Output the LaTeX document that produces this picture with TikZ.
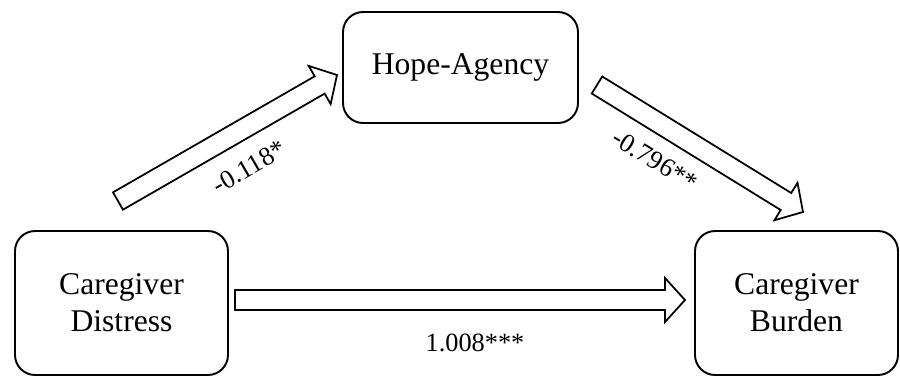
\documentclass[tikz,border=0pt]{standalone}
\usepackage{fontspec}
\setmainfont{Liberation Serif}
\usetikzlibrary{calc}

\begin{document}
\begin{tikzpicture}[
  x=0.02cm, y=-0.02cm,
  var/.style={draw,line width=1.1pt,rounded corners=0.4cm,align=center,
    font=\fontsize{18}{21}\selectfont,inner sep=0pt},
  lab/.style={font=\fontsize{15}{18}\selectfont,inner sep=1pt},
  % hollow block arrow: shaft 0.4cm wide, head 0.88cm wide and 0.4cm long
  fat/.style={draw,line width=1pt,fill=white,line join=miter,
    to path={
      ($(\tikztostart)!0.2cm!90:(\tikztotarget)$)
      -- ($($(\tikztotarget)!0.4cm!(\tikztostart)$)!0.2cm!90:(\tikztotarget)$)
      -- ($($(\tikztotarget)!0.4cm!(\tikztostart)$)!0.44cm!90:(\tikztotarget)$)
      -- (\tikztotarget)
      -- ($($(\tikztotarget)!0.4cm!(\tikztostart)$)!0.44cm!-90:(\tikztotarget)$)
      -- ($($(\tikztotarget)!0.4cm!(\tikztostart)$)!0.2cm!-90:(\tikztotarget)$)
      -- ($(\tikztostart)!0.2cm!-90:(\tikztotarget)$)
      -- cycle}},
]
\useasboundingbox (0,0) rectangle (900,376);

\node[var,minimum width=4.7cm,minimum height=2.22cm] (hope) at (460.5,67.5) {Hope-Agency};
\node[var,minimum width=4.26cm,minimum height=2.88cm] (dist) at (121.5,303) {Caregiver\\Distress};
\node[var,minimum width=4.06cm,minimum height=2.88cm] (burd) at (796.5,303) {Caregiver\\Burden};

% arrow ends sit in the gaps between the boxes
\coordinate (a1s) at (118,201);
\coordinate (a1e) at (337,75);
\coordinate (a2s) at (597,85);
\coordinate (a2e) at (803,212);
\coordinate (c1s) at (235,300);
\coordinate (c1e) at (685,300);

\draw[fat] (a1s) to (a1e);
\draw[fat] (a2s) to (a2e);
\draw[fat] (c1s) to (c1e);

\node[lab,rotate=30] (wa) at (249,167) {-0.118*};
\node[lab,rotate=-31.6] (wb) at (655,160) {-0.796**};
\node[lab] (wc) at (475,343) {1.008***};
\end{tikzpicture}
\end{document}
